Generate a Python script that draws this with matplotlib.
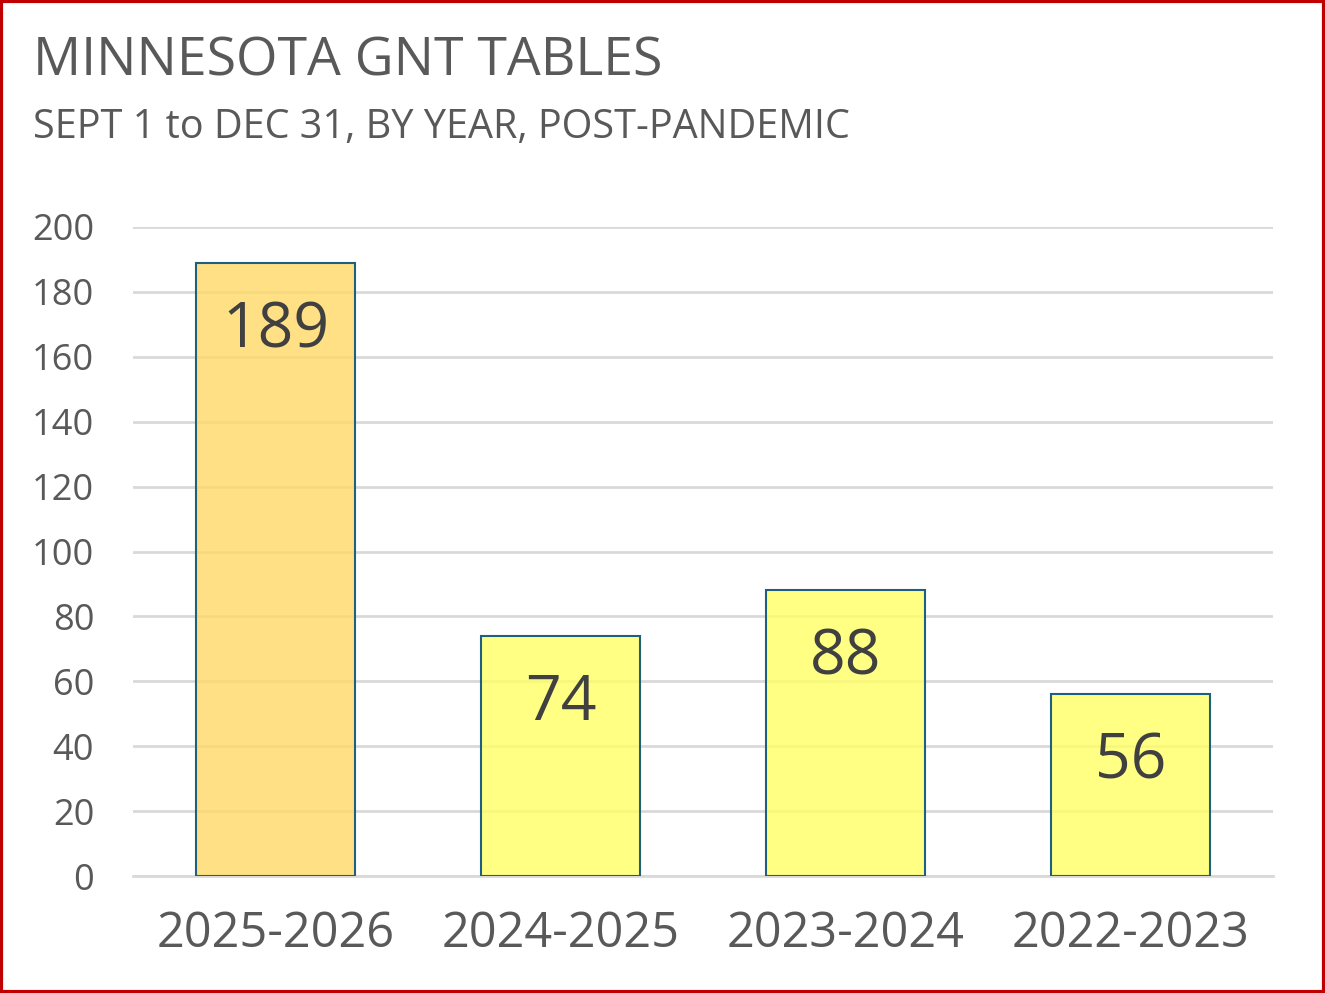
import matplotlib
matplotlib.use("Agg")
import matplotlib.pyplot as plt
from matplotlib.colors import to_rgba
from matplotlib.patches import Rectangle

# data
seasons = ["2025-2026", "2024-2025", "2023-2024", "2022-2023"]
tables = [189, 74, 88, 56]
y_ticks = [0, 20, 40, 60, 80, 100, 120, 140, 160, 180, 200]

bar_colors = ["#FFD966", "#FFFF66", "#FFFF66", "#FFFF66"]

plt.rcParams['font.family'] = ['Open Sans', 'DejaVu Sans']

fig = plt.figure(figsize=(13.25, 9.93), dpi=100)
ax = fig.add_axes([0.1004, 0.1178, 0.8604, 0.6536])

x = range(len(seasons))
ax.bar(x, tables, width=0.56, color=[to_rgba(c, 0.8) for c in bar_colors],
       edgecolor="#1F5F7F", linewidth=1.5, zorder=3)

for i, v in enumerate(tables):
    ax.annotate(str(v), (i, v), xytext=(0, -49), textcoords="offset points",
                ha="center", va="center", fontsize=45, color="#404040", zorder=4)

ax.set_xlim(-0.5, len(seasons) - 0.5)
ax.set_ylim(0, 200)
ax.set_yticks(y_ticks)
ax.set_xticks(list(x))
ax.set_xticklabels(seasons)
ax.grid(axis="y", color="#D9D9D9", linewidth=2, zorder=0)
ax.set_axisbelow(True)
for s in ["top", "right", "left"]:
    ax.spines[s].set_visible(False)
ax.spines["bottom"].set_color("#D9D9D9")
ax.spines["bottom"].set_linewidth(2)
ax.tick_params(axis="both", length=0)
ax.tick_params(axis="y", labelsize=26, labelcolor="#595959", pad=28)
ax.tick_params(axis="x", labelsize=35, labelcolor="#595959", pad=24)

fig.text(0.025, 0.938, "MINNESOTA GNT TABLES", fontsize=38.5, color="#595959", va="center")
fig.text(0.025, 0.871, "SEPT 1 to DEC 31, BY YEAR, POST-PANDEMIC", fontsize=28.5,
         color="#595959", va="center")

fig.add_artist(Rectangle((0.001, 0.0015), 0.998, 0.997, transform=fig.transFigure,
                         fill=False, edgecolor="#C00000", linewidth=3))

fig.savefig("out.png", dpi=100)
